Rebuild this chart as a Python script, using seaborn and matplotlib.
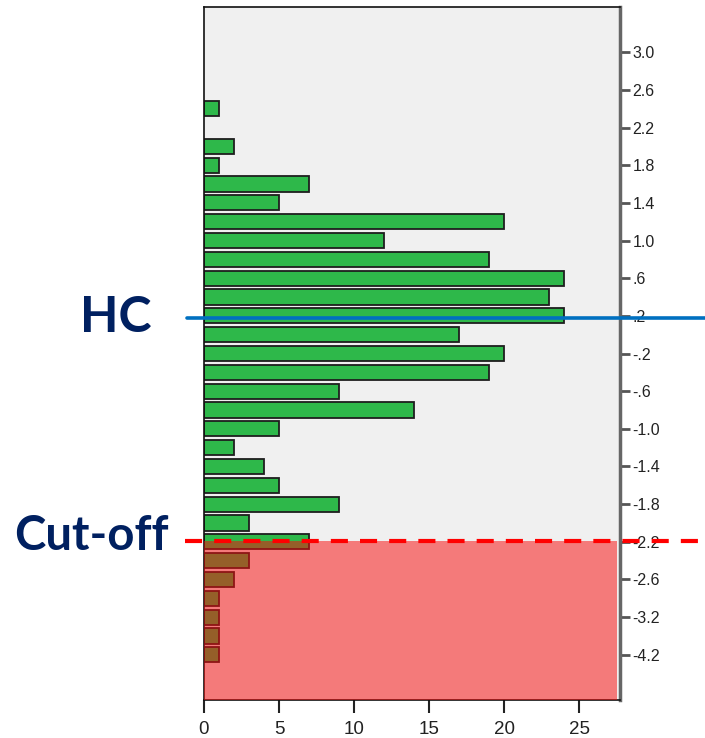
import matplotlib
matplotlib.use("Agg")
import matplotlib.pyplot as plt
import seaborn as sns
import pandas as pd

# Category (bin) labels from top to bottom and their counts
categories = ["3.0", "2.8", "2.6", "2.4", "2.2", "2.0", "1.8", "1.6", "1.4", "1.2",
              "1.0", ".8", ".6", ".4", ".2", ".0", "-.2", "-.4", "-.6", "-.8",
              "-1.0", "-1.2", "-1.4", "-1.6", "-1.8", "-2.0", "-2.2", "-2.4", "-2.6",
              "-3.0", "-3.2", "-3.8", "-4.2"]
counts = [0, 0, 0, 1, 0, 2, 1, 7, 5, 20,
          12, 19, 24, 23, 24, 17, 20, 19, 9, 14,
          5, 2, 4, 5, 9, 3, 7, 3, 2,
          1, 1, 1, 1]
x_ticks = [0, 5, 10, 15, 20, 25]
hc_level = ".2"
cutoff_level = "-2.2"

df = pd.DataFrame({"z": categories, "n": counts})
df = df[df["n"] > 0]

sns.set_style("white")
plt.rcParams["font.family"] = ["Liberation Sans", "DejaVu Sans"]

fig = plt.figure(figsize=(7.05, 7.38), dpi=100)
ax = fig.add_axes([204 / 705, 38 / 738, 416 / 705, 693 / 738])
ax.set_facecolor("#f0f0f0")

sns.barplot(data=df, x="n", y="z", order=categories, orient="h",
            color="#2eb84a", saturation=1, width=0.8,
            edgecolor="#1e1e1e", linewidth=1.3, ax=ax, zorder=2)

pos = {c: i for i, c in enumerate(categories)}
n_cat = len(categories)
ax.set_ylim(n_cat + 1.4, -2.4)
ax.set_xlim(0, 27.7)

# Cut-off shaded region
cut_y = pos[cutoff_level] - 0.05
ax.axhspan(cut_y, n_cat + 1.4, xmin=0, xmax=0.993, color=(248 / 255, 11 / 255, 11 / 255),
           alpha=0.515, lw=0, zorder=3)

# HC and cut-off lines extending past the axes
tr = ax.get_yaxis_transform()
hc_y = pos[hc_level] + 0.1
ax.plot([-0.042, 1.21], [hc_y, hc_y], transform=tr, color="#0070c0", lw=2.6,
        clip_on=False, zorder=5)
ax.plot([-0.046, 1.21], [cut_y, cut_y], transform=tr, color="#ff0000", lw=3,
        dashes=(4.1, 2.9), clip_on=False, zorder=5)

# Axes styling
ax.set_xticks(x_ticks)
ax.set_xticklabels([str(v) for v in x_ticks], fontsize=13.5)
ax.tick_params(axis="x", direction="out", length=9, width=1.5, colors="#222222", pad=6,
               bottom=True)
ax.yaxis.tick_right()
ax.set_yticks(range(0, n_cat, 2))
ax.set_yticklabels(categories[::2], fontsize=11.5)
ax.tick_params(axis="y", direction="out", length=7, width=2, colors="#555555",
               labelcolor="#222222", pad=2, right=True, left=False)
ax.set_xlabel("")
ax.set_ylabel("")
for side in ["left", "top", "bottom"]:
    ax.spines[side].set_visible(True)
    ax.spines[side].set_color("#111111")
    ax.spines[side].set_linewidth(1.2)
ax.spines["right"].set_visible(True)
ax.spines["right"].set_color("#666666")
ax.spines["right"].set_linewidth(2.5)

# Annotations
fig.text(116 / 705, 1 - 318 / 738, "HC", ha="center", va="center", fontsize=36,
         fontweight="bold", color="#002060", family=["Lato", "DejaVu Sans"])
fig.text(91 / 705, 1 - 536 / 738, "Cut-off", ha="center", va="center", fontsize=34,
         fontweight="bold", color="#002060", family=["Lato", "DejaVu Sans"])

fig.savefig("out.png", dpi=100)
